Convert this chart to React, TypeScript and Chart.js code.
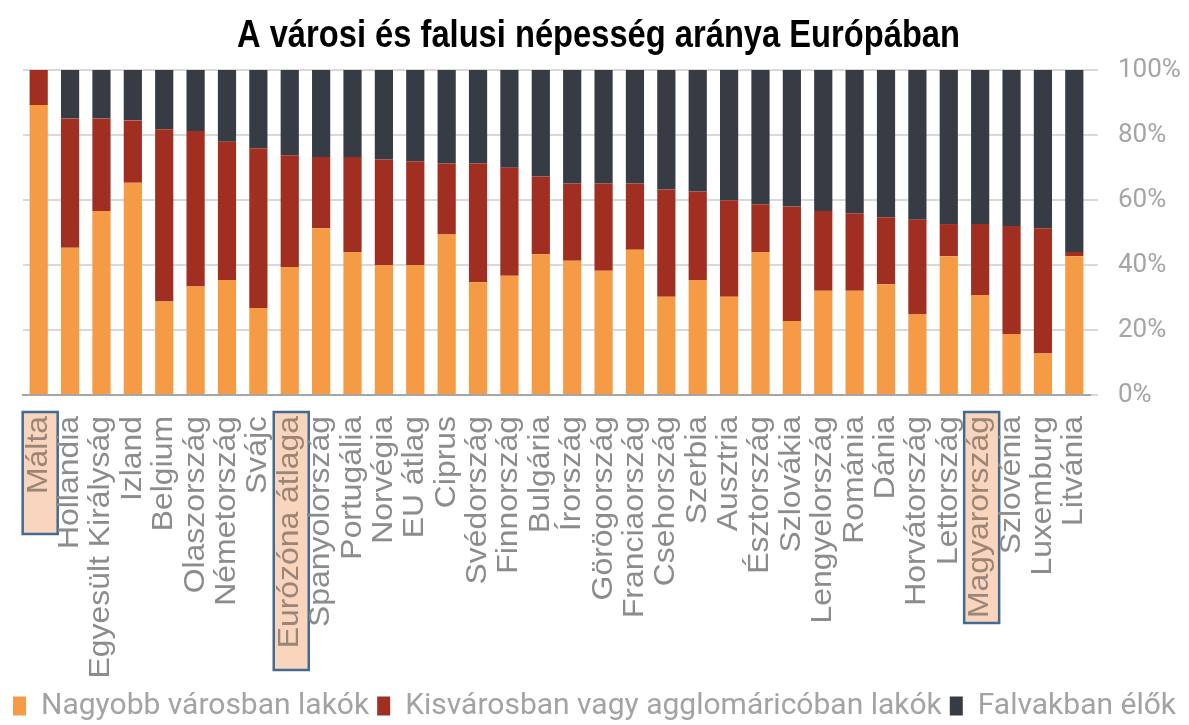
import React, { useEffect, useRef } from "react";
import { Chart, registerables } from "chart.js";

Chart.register(...registerables);

const chartTitle = "A városi és falusi népesség aránya Európában";

const categories = [
  "Málta", "Hollandia", "Egyesült Királyság", "Izland", "Belgium", "Olaszország",
  "Németország", "Svájc", "Eurózóna átlaga", "Spanyolország", "Portugália", "Norvégia",
  "EU átlag", "Ciprus", "Svédország", "Finnország", "Bulgária", "Írország",
  "Görögország", "Franciaország", "Csehország", "Szerbia", "Ausztria", "Észtország",
  "Szlovákia", "Lengyelország", "Románia", "Dánia", "Horvátország", "Lettország",
  "Magyarország", "Szlovénia", "Luxemburg", "Litvánia",
];

const seriesNames = [
  "Nagyobb városban lakók",
  "Kisvárosban vagy agglomáricóban lakók",
  "Falvakban élők",
];

const bigCity = [
  89.2, 45.3, 56.6, 65.3, 28.8, 33.4, 35.4, 26.8, 39.4, 51.3, 44.0, 40.0,
  40.0, 49.4, 34.7, 36.7, 43.3, 41.3, 38.2, 44.7, 30.2, 35.4, 30.2, 44.0,
  22.8, 32.1, 32.1, 34.1, 24.8, 42.7, 30.8, 18.8, 12.8, 42.7,
];

const smallTown = [
  10.8, 39.8, 28.5, 19.2, 53.0, 47.8, 42.5, 49.1, 34.4, 21.9, 29.2, 32.5,
  31.9, 21.8, 36.5, 33.2, 23.9, 23.8, 26.9, 20.4, 33.0, 27.2, 29.7, 14.7,
  35.2, 24.5, 23.8, 20.6, 29.1, 9.9, 21.8, 33.2, 38.5, 1.3,
];

const villages = [
  0.0, 14.9, 14.9, 15.5, 18.2, 18.8, 22.1, 24.1, 26.2, 26.8, 26.8, 27.5,
  28.1, 28.8, 28.8, 30.1, 32.8, 34.9, 34.9, 34.9, 36.8, 37.4, 40.1, 41.3,
  42.0, 43.4, 44.1, 45.3, 46.1, 47.4, 47.4, 48.0, 48.7, 56.0,
];

const highlighted = ["Málta", "Eurózóna átlaga", "Magyarország"];

// style constants (not data)
const COLORS = ["#f59b45", "#a12f21", "#373b44"];
const BOX_LEN: Record<string, number> = {
  "Málta": 122,
  "Eurózóna átlaga": 258,
  "Magyarország": 211,
};
const W = 1189;
const H = 725;
const PLOT_BOTTOM = 395;
const BOTTOM_PAD = -6;

const textPlugin = {
  id: "customText",
  afterDraw(chart: any) {
    const ctx = chart.ctx as CanvasRenderingContext2D;
    const xs = chart.scales.x;
    const area = chart.chartArea;

    // title
    ctx.save();
    ctx.font = 'bold 39px "Liberation Sans", Arial, sans-serif';
    const tw = ctx.measureText(chartTitle).width;
    const sx = 723 / tw;
    ctx.translate(598.5, 47);
    ctx.scale(sx, 1);
    ctx.textAlign = "center";
    ctx.textBaseline = "alphabetic";
    ctx.fillStyle = "#000000";
    ctx.fillText(chartTitle, 0, 0);
    ctx.restore();

    // category labels
    categories.forEach((c, i) => {
      const x = xs.getPixelForValue(i);
      const top = area.bottom + 21;
      if (highlighted.includes(c)) {
        ctx.save();
        ctx.fillStyle = "#f9d5be";
        ctx.strokeStyle = "#436b92";
        ctx.lineWidth = 2.5;
        const bx = x - 16;
        const by = area.bottom + 17;
        const bw = 35;
        const bh = BOX_LEN[c];
        ctx.fillRect(bx, by, bw, bh);
        ctx.strokeRect(bx, by, bw, bh);
        ctx.restore();
      }
      ctx.save();
      ctx.font = '29px "Liberation Sans", Arial, sans-serif';
      ctx.fillStyle = highlighted.includes(c) ? "#9a8577" : "#8c8c8c";
      ctx.translate(x, top);
      ctx.rotate(-Math.PI / 2);
      ctx.scale(1.1, 1);
      ctx.textAlign = "right";
      ctx.textBaseline = "middle";
      ctx.fillText(c, 0, 0);
      ctx.restore();
    });
  },
};

export default function App() {
  const ref = useRef<HTMLCanvasElement | null>(null);

  useEffect(() => {
    if (!ref.current) return;
    const datasets = [bigCity, smallTown, villages].map((d, i) => ({
      label: seriesNames[i],
      data: d,
      backgroundColor: COLORS[i],
      borderWidth: 0,
      barPercentage: 0.58,
      categoryPercentage: 1.0,
      xAxisID: "x",
      yAxisID: "y",
    }));
    const chart = new Chart(ref.current, {
      type: "bar",
      data: { labels: categories, datasets },
      options: {
        animation: false,
        responsive: false,
        devicePixelRatio: 1,
        layout: { padding: { left: 0, top: 70, right: 0, bottom: BOTTOM_PAD } },
        plugins: {
          title: { display: false },
          tooltip: { enabled: false },
          legend: {
            display: true,
            position: "bottom",
            labels: {
              boxWidth: 13,
              boxHeight: 19,
              padding: 8,
              color: "#a3a3a3",
              font: { family: "Roboto, 'Liberation Sans', sans-serif", size: 30 },
            },
          },
        },
        scales: {
          x: {
            stacked: true,
            grid: { display: false },
            ticks: { display: false },
            border: { display: true, color: "#a6a6a6", width: 2 },
            afterFit: (scale: any) => {
              const lh = scale.chart.legend ? scale.chart.legend.height : 60;
              scale.height = H - BOTTOM_PAD - PLOT_BOTTOM - lh;
            },
          },
          y: {
            stacked: true,
            position: "right",
            min: 0,
            max: 100,
            border: { display: false },
            grid: {
              color: "#d9d9d9",
              lineWidth: 2,
              drawTicks: true,
              tickLength: 8,
              tickColor: "#d9d9d9",
            },
            ticks: {
              stepSize: 20,
              padding: 20,
              color: "#a5a5a5",
              font: { family: "Roboto, 'Liberation Sans', sans-serif", size: 26 },
              callback: (v: any) => v + "%",
            },
            afterFit: (scale: any) => {
              scale.width = W - 1090;
            },
          },
          leftPad: {
            position: "left",
            display: true,
            grid: { display: false },
            ticks: { display: false },
            border: { display: false },
            afterFit: (scale: any) => {
              scale.width = 23;
            },
          },
        },
      },
      plugins: [textPlugin],
    });
    return () => chart.destroy();
  }, []);

  return (
    <div style={{ position: "absolute", left: 0, top: 0, width: W, height: H, background: "#ffffff" }}>
      <canvas ref={ref} width={W} height={H} style={{ display: "block", width: W, height: H }} />
    </div>
  );
}
